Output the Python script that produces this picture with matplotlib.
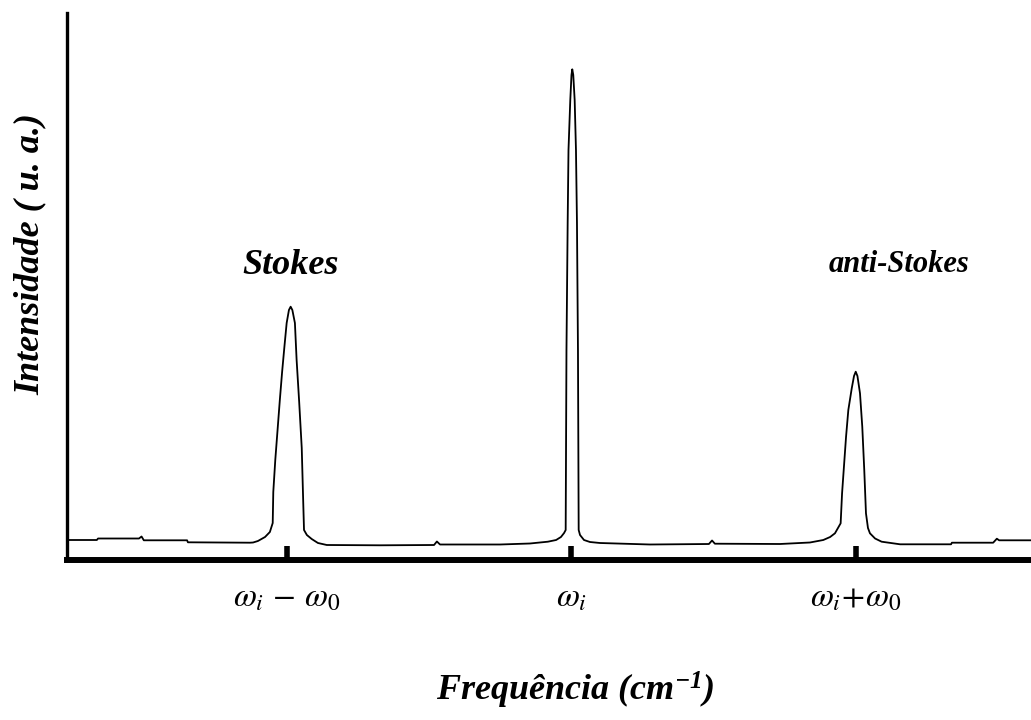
import matplotlib
matplotlib.use("Agg")
import matplotlib.pyplot as plt

plt.rcParams.update({
    "mathtext.fontset": "custom",
    "mathtext.rm": "Liberation Serif:bold:italic",
    "mathtext.it": "Liberation Serif:bold:italic",
    "mathtext.bf": "Liberation Serif:bold:italic",
})

###############################################
# DATA (x in units of w0 around wi)
###############################################

freq = [-1.773, -1.668, -1.664, -1.520, -1.511, -1.503, -1.351, -1.348, -1.130,
        -1.119, -1.102, -1.077, -1.060, -1.050, -1.048, -1.041, -1.033, -1.025,
        -1.017, -1.009, -1.001, -0.993, -0.987, -0.981, -0.972, -0.966, -0.957,
        -0.948, -0.943, -0.940, -0.930, -0.913, -0.891, -0.860,
        -0.673, -0.483, -0.473, -0.462, -0.251, -0.146, -0.083, -0.054, -0.037,
        -0.026, -0.0204, -0.0176, -0.0134, -0.0105, -0.0042, 0.0, 0.0028,
        0.0063, 0.0112, 0.0158, 0.0193, 0.0228, 0.0253, 0.030, 0.044, 0.065,
        0.100, 0.276, 0.483, 0.494, 0.504, 0.733, 0.838,
        0.885, 0.909, 0.926, 0.946, 0.951, 0.958, 0.965, 0.973, 0.985, 0.993,
        0.999, 1.005, 1.014, 1.022, 1.029, 1.035, 1.042, 1.049, 1.067, 1.090,
        1.155, 1.334, 1.337, 1.482, 1.495, 1.503, 1.615]

intensity = [20.0, 20.0, 21.5, 21.5, 23.5, 19.7, 19.7, 17.7, 17.3,
             17.5, 19.0, 23.0, 28.0, 37.0, 68.0, 100.0, 130.0, 160.0,
             188.0, 213.0, 237.0, 250.0, 253.3, 250.0, 237.0, 200.0, 158.0,
             112.0, 60.0, 30.0, 25.0, 21.0, 17.0, 15.0,
             14.7, 15.0, 18.5, 15.5, 15.5, 16.5, 18.3, 20.0, 23.0,
             27.0, 30.0, 210.0, 337.0, 410.0, 460.0, 485.0, 490.7,
             485.0, 460.0, 410.0, 337.0, 210.0, 30.0, 25.0, 20.0, 18.0,
             17.0, 15.5, 16.0, 19.5, 16.3, 16.0, 17.5,
             20.0, 23.0, 26.7, 36.7, 66.7, 95.0, 123.3, 150.0, 171.7, 184.0,
             188.3, 184.0, 166.7, 133.3, 90.0, 46.7, 32.0, 26.7, 21.5, 18.3,
             15.7, 15.7, 17.3, 17.3, 21.3, 19.7, 19.7]

tick_pos = [-1, 0, 1]
tick_labels = [r"$\omega_{i}\,-\,\omega_{\mathit{0}}$", r"$\omega_{i}$",
               r"$\omega_{i}\!+\!\omega_{\mathit{0}}$"]

peak_names = ["Stokes", "anti-Stokes"]
peak_name_x = [-0.986, 1.151]
peak_name_y = [295, 295]
peak_name_size = [26, 22]

###############################################
# FIGURE
###############################################

fig = plt.figure(figsize=(10.31, 7.2), dpi=100)
ax = fig.add_axes([67 / 1031, 160 / 720, 964 / 1031, 547 / 720])

ax.plot(freq, intensity, color="black", lw=1.3)

ax.set_xlim(-1.773, 1.615)
ax.set_ylim(0, 547)

ax.spines["top"].set_visible(False)
ax.spines["right"].set_visible(False)
ax.spines["left"].set_linewidth(2.4)
ax.spines["bottom"].set_linewidth(4.3)

ax.set_yticks([])
ax.set_xticks(tick_pos)
ax.set_xticklabels(tick_labels)
ax.tick_params(axis="x", direction="in", length=10, width=4, pad=15)
for lab in ax.get_xticklabels():
    lab.set_math_fontfamily("stix")
    lab.set_fontsize(24)

for name, x, y, fs in zip(peak_names, peak_name_x, peak_name_y, peak_name_size):
    ax.text(x, y, name, ha="center", va="center", fontsize=fs,
            family="Liberation Serif", weight="bold", style="italic")

fig.text(30 / 1031, 1 - 254 / 720, "Intensidade ( u. a.)", rotation=90,
         ha="center", va="center", fontsize=26,
         family="Liberation Serif", weight="bold", style="italic")

fig.text(575 / 1031, 1 - 690 / 720, r"Frequência (cm$^{-1}$)",
         ha="center", va="center", fontsize=26,
         family="Liberation Serif", weight="bold", style="italic")

fig.savefig("out.png", dpi=100)
